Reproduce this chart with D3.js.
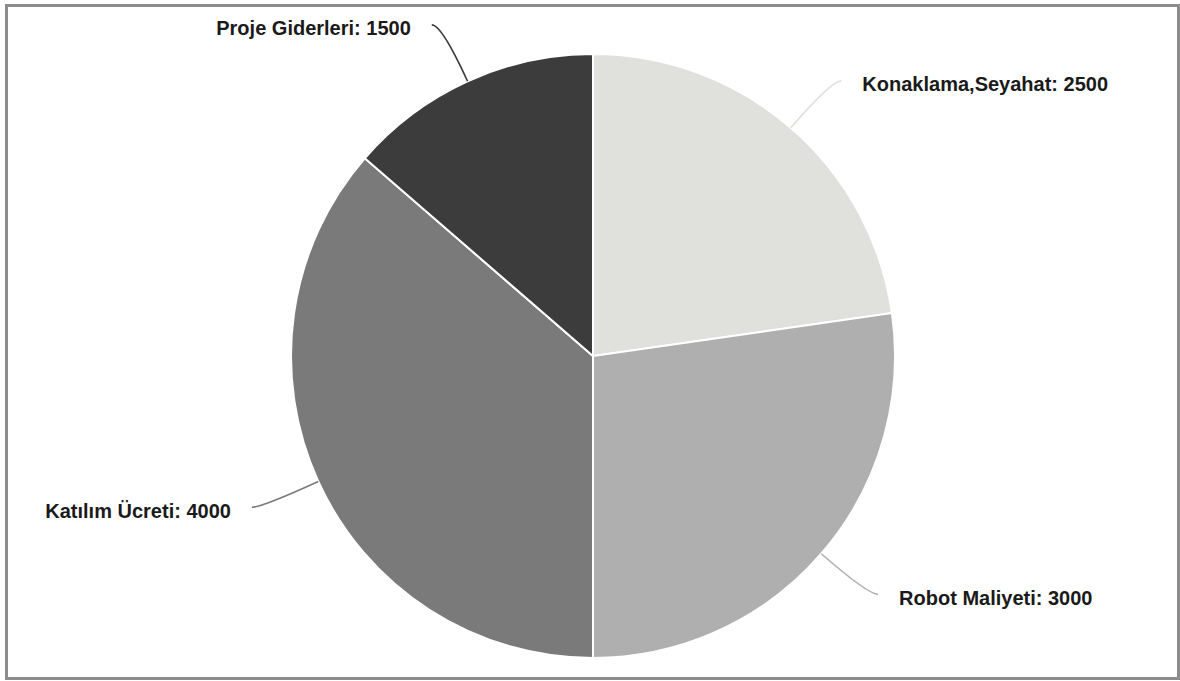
<!DOCTYPE html>
<html><head><meta charset="utf-8">
<script src="https://cdn.jsdelivr.net/npm/d3@7"></script>
<style>html,body{margin:0;padding:0;background:#fff;}svg{display:block;}</style>
</head><body>
<script>
const categories = ["Konaklama,Seyahat", "Robot Maliyeti", "Katılım Ücreti", "Proje Giderleri"];
const values = [2500, 3000, 4000, 1500];
const colors = ["#e0e0dc", "#afafaf", "#7a7a7a", "#3c3c3c"];

const W = 1180, H = 681;
const cx = 593, cy = 356, R = 302;
const svg = d3.select("body").append("svg").attr("width", W).attr("height", H);

svg.append("rect").attr("x", 6.5).attr("y", 5.5).attr("width", 1172).attr("height", 673)
  .attr("fill", "#fff").attr("stroke", "#8c8c8c").attr("stroke-width", 3);

const data = categories.map((c, i) => ({ name: c, value: values[i], color: colors[i] }));
const pie = d3.pie().value(d => d.value).sort(null);
const arcs = pie(data);
const arc = d3.arc().innerRadius(0).outerRadius(R);

const g = svg.append("g").attr("transform", `translate(${cx},${cy})`);
g.selectAll("path.slice").data(arcs).join("path").attr("class", "slice")
  .attr("d", arc).attr("fill", d => d.data.color)
  .attr("stroke", "#fff").attr("stroke-width", 2);

arcs.forEach(a => {
  const m = (a.startAngle + a.endAngle) / 2;
  const dx = Math.sin(m), dy = -Math.cos(m);
  const sx = dx * R, sy = dy * R;
  const t = 62;
  const qx = sx + dx * t, qy = sy + dy * t;
  const side = dx >= 0 ? 1 : -1;
  const ex = qx + side * 10, ey = qy;
  g.append("path")
    .attr("d", `M${sx},${sy} Q${qx},${qy} ${ex},${ey}`)
    .attr("fill", "none").attr("stroke", a.data.color).attr("stroke-width", 1.6);
  g.append("text")
    .attr("x", ex + side * 21).attr("y", ey + 10.5)
    .attr("text-anchor", side > 0 ? "start" : "end")
    .attr("font-family", "Liberation Sans, Arial, sans-serif")
    .attr("font-weight", "bold").attr("font-size", 20).attr("fill", "#1a1a1a")
    .text(`${a.data.name}: ${a.data.value}`);
});
</script>
</body></html>
